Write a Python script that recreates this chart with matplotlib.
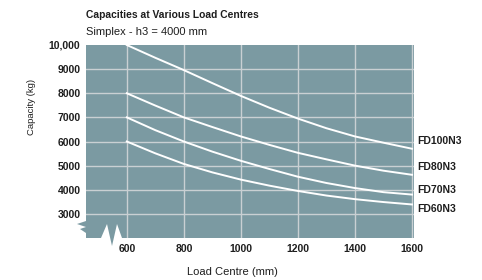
import numpy as np
import matplotlib.pyplot as plt
from matplotlib.patches import Polygon

# Capacity curves (load centre in mm, capacity in kg)
load_centre = [600, 700, 800, 900, 1000, 1100, 1200, 1300, 1400, 1500, 1600]
fd100n3 = [10000, 9470, 8960, 8420, 7890, 7400, 6950, 6550, 6210, 5950, 5700]
fd80n3 = [8000, 7490, 7000, 6600, 6210, 5860, 5530, 5260, 5000, 4790, 4620]
fd70n3 = [7000, 6470, 6000, 5580, 5200, 4860, 4540, 4280, 4070, 3900, 3800]
fd60n3 = [6000, 5510, 5070, 4720, 4420, 4170, 3950, 3760, 3610, 3490, 3390]
models = ['FD100N3', 'FD80N3', 'FD70N3', 'FD60N3']

x_ticks = [600, 800, 1000, 1200, 1400, 1600]
y_ticks = [3000, 4000, 5000, 6000, 7000, 8000, 9000, 10000]
y_tick_labels = ['3000', '4000', '5000', '6000', '7000', '8000', '9000', '10,000']

# where the model names sit next to the right edge (kg level)
label_y = [6000, 4950, 4000, 3200]

bg = '#7b9aa2'
grid_col = '#c9d0d3'
text_col = '#1e1e1e'
font = ['Liberation Sans', 'DejaVu Sans']
plt.rcParams['font.family'] = font

fig = plt.figure(figsize=(4.82, 2.80), dpi=100)
W, H = 482, 280
x0, x1, y0, y1 = 86, 414, 45, 238
ax = fig.add_axes([x0 / W, 1 - y1 / H, (x1 - x0) / W, (y1 - y0) / H])
ax.set_xlim(457, 1607)
ax.set_ylim(2000, 10000)
ax.set_facecolor('none')
for s in ax.spines.values():
    s.set_visible(False)

# grey panel with the broken-axis notches at the lower left
pix = [(86, 45), (414, 45), (414, 238), (122, 238), (117, 224), (112, 246),
       (107, 224), (101, 238), (86, 238), (86, 233), (80, 229), (86, 227),
       (77, 224), (86, 221)]
pts = [((px - x0) / (x1 - x0), (y1 - py) / (y1 - y0)) for px, py in pix]
ax.add_patch(Polygon(pts, closed=True, transform=ax.transAxes,
                     facecolor=bg, edgecolor='none', clip_on=False, zorder=0))

for xv in x_ticks:
    ax.axvline(xv, color=grid_col, lw=1.0, zorder=1)
for yv in y_ticks[:-1]:
    ax.axhline(yv, color=grid_col, lw=1.0, zorder=1)

series = [fd100n3, fd80n3, fd70n3, fd60n3]
for name, vals, ly in zip(models, series, label_y):
    ax.plot(load_centre, vals, color='white', lw=1.4, zorder=3)
    ax.annotate(name, xy=(1.0, ly), xycoords=('axes fraction', 'data'),
                xytext=(2.5, 0), textcoords='offset points', ha='left', va='center',
                fontsize=7.5, fontweight='bold', color=text_col)

ax.set_xticks(x_ticks)
ax.set_xticklabels([str(v) for v in x_ticks])
ax.set_yticks(y_ticks)
ax.set_yticklabels(y_tick_labels)
ax.tick_params(length=0, labelsize=7.5, colors=text_col)
ax.tick_params(axis='x', pad=4)
ax.tick_params(axis='y', pad=4)
for lab in ax.get_xticklabels() + ax.get_yticklabels():
    lab.set_fontweight('bold')

fig.text(x0 / W, 1 - 15 / H, 'Capacities at Various Load Centres', fontsize=7.4,
         fontweight='bold', color=text_col, va='center', ha='left')
fig.text(x0 / W, 1 - 32 / H, 'Simplex - h3 = 4000 mm', fontsize=8,
         color=text_col, va='center', ha='left')
fig.text(232 / W, 1 - 272 / H, 'Load Centre (mm)', fontsize=8,
         color=text_col, va='center', ha='center')
fig.text(32 / W, 1 - 107 / H, 'Capacity (kg)', fontsize=6.8, rotation=90,
         color=text_col, va='center', ha='center')

fig.savefig('out.png', dpi=100)
